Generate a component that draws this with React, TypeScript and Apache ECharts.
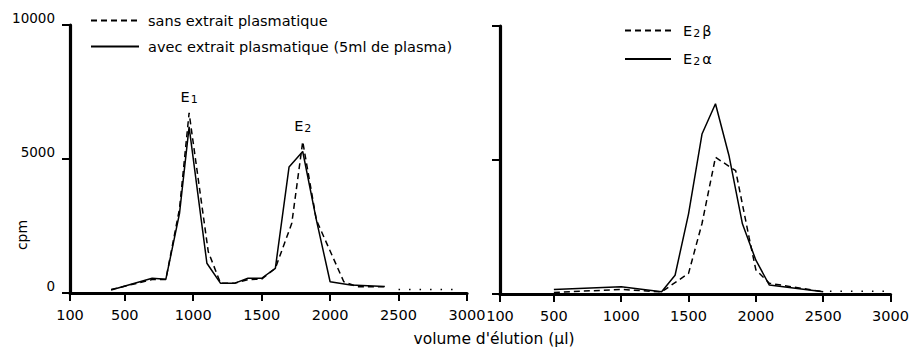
import React, { useEffect, useRef } from "react";
import * as echarts from "echarts";

// Left panel: elution profiles (volume µl -> cpm)
const xLeftSolid = [400, 700, 800, 900, 970, 1100, 1200, 1300, 1400, 1500, 1600, 1700, 1800, 1900, 2000, 2150, 2400];
const yLeftSolid = [110, 550, 510, 2970, 6200, 1110, 360, 360, 550, 550, 920, 4700, 5280, 2720, 420, 300, 240];
const xLeftDashed = [400, 700, 800, 900, 970, 1110, 1200, 1300, 1400, 1500, 1600, 1720, 1800, 1900, 2100, 2200, 2400];
const yLeftDashed = [130, 500, 500, 3150, 6720, 1540, 360, 360, 500, 520, 920, 2600, 5650, 2720, 420, 235, 235];
const xLeftDotted = [2500, 2950];
const yLeftDotted = [130, 130];

// Right panel: E2 alpha / E2 beta
const xRightSolid = [500, 1000, 1300, 1400, 1500, 1600, 1700, 1800, 1900, 2000, 2100, 2500];
const yRightSolid = [170, 270, 85, 700, 2990, 5970, 7100, 5170, 2620, 1260, 335, 85];
const xRightDashed = [500, 1000, 1300, 1500, 1600, 1700, 1850, 1950, 2000, 2100, 2500];
const yRightDashed = [60, 170, 80, 770, 2630, 5100, 4600, 2100, 900, 400, 85];
const xRightDotted = [2550, 3000];
const yRightDotted = [100, 100];

const xTicks = [100, 500, 1000, 1500, 2000, 2500, 3000];
const leftNames = ["sans extrait plasmatique", "avec extrait plasmatique (5ml de plasma)"];
const rightNames = ["E2β", "E2α"];
const peakLabels = ["1", "2"];
const peakIdx = [4, 12];

const FONT = "DejaVu Sans";

const zip = (xs: number[], ys: number[]) => xs.map((x, i) => [x, ys[i]]);

export default function App() {
  const ref = useRef<HTMLDivElement>(null);
  useEffect(() => {
    if (!ref.current) return;
    const chart = echarts.init(ref.current, undefined, { renderer: "svg" });
    const axisLine = { lineStyle: { color: "#000", width: 3.2 } };
    const mkX = (gridIndex: number) => ({
      type: "value",
      gridIndex,
      min: 100,
      max: 3000,
      axisLine: { show: true, ...axisLine, onZero: false },
      axisTick: { show: true, length: 8, lineStyle: { color: "#000", width: 2 }, customValues: xTicks },
      axisLabel: {
        customValues: xTicks,
        formatter: (v: number) => String(v),
        color: "#000",
        fontFamily: FONT,
        fontSize: 14.5,
        margin: 14,
      },
      splitLine: { show: false },
    });
    const mkY = (gridIndex: number, showLabel: boolean) => ({
      type: "value",
      gridIndex,
      min: 0,
      max: 10000,
      interval: 5000,
      axisLine: { show: true, ...axisLine, onZero: false },
      axisTick: { show: true, length: 8, lineStyle: { color: "#000", width: 2 } },
      axisLabel: {
        show: showLabel,
        formatter: (v: number) => String(v),
        color: "#000",
        fontFamily: FONT,
        fontSize: 13.5,
        margin: 15,
        verticalAlign: "bottom",
        lineHeight: 14,
      },
      splitLine: { show: false },
    });
    const solid = { color: "#000", width: 1.5, type: "solid" };
    const dashed = { color: "#000", width: 1.5, type: [6, 4] };
    const dotted = { color: "#000", width: 1.5, type: [1.5, 9] };
    const base = { type: "line", symbol: "none", silent: true, color: "#000", itemStyle: { color: "#000" } };
    const richSub = {
      e: { fontSize: 14.5, fontFamily: FONT, color: "#000" },
      s: { fontSize: 11, fontFamily: FONT, color: "#000", padding: [5, 0, 0, 1] },
      g: { fontSize: 14.5, fontFamily: FONT, color: "#000", padding: [0, 0, 0, 2] },
    };

    chart.setOption({
      animation: false,
      backgroundColor: "#fff",
      grid: [
        { left: 70, top: 25, width: 397, height: 268 },
        { left: 500, top: 26, width: 397, height: 268 },
      ],
      xAxis: [mkX(0), mkX(1)],
      yAxis: [mkY(0, true), mkY(1, false)],
      legend: [
        {
          data: leftNames,
          orient: "vertical",
          left: 90,
          top: 13,
          padding: 0,
          itemWidth: 48,
          itemHeight: 14,
          itemGap: 11,
          selectedMode: false,
          itemStyle: { opacity: 0 },
          textStyle: { color: "#000", fontFamily: FONT, fontSize: 14.5, lineHeight: 14, padding: [0, 0, 0, 4] },
        },
        {
          data: rightNames,
          orient: "vertical",
          left: 624,
          top: 23,
          padding: 0,
          itemWidth: 46,
          itemHeight: 14,
          itemGap: 13,
          selectedMode: false,
          itemStyle: { opacity: 0 },
          formatter: (n: string) => `{e|E}{s|2}{g|${n.slice(2)}}`,
          textStyle: { color: "#000", fontFamily: FONT, fontSize: 14.5, lineHeight: 14, padding: [0, 0, 0, 7], rich: richSub },
        },
      ],
      series: [
        {
          ...base,
          name: leftNames[0],
          xAxisIndex: 0,
          yAxisIndex: 0,
          data: zip(xLeftDashed, yLeftDashed),
          lineStyle: dashed,
          markPoint: {
            symbol: "circle",
            symbolSize: 0,
            silent: true,
            label: {
              show: true,
              position: "top",
              distance: 8,
              formatter: (p: any) => `{e|E}{s|${p.name}}`,
              rich: richSub,
            },
            data: peakIdx.map((k, i) => ({
              name: peakLabels[i],
              coord: [xLeftDashed[k], yLeftDashed[k]],
            })),
          },
        },
        {
          ...base,
          name: leftNames[1],
          xAxisIndex: 0,
          yAxisIndex: 0,
          data: zip(xLeftSolid, yLeftSolid),
          lineStyle: solid,
        },
        {
          ...base,
          name: "dotted-left",
          xAxisIndex: 0,
          yAxisIndex: 0,
          data: zip(xLeftDotted, yLeftDotted),
          lineStyle: dotted,
        },
        {
          ...base,
          name: rightNames[0],
          xAxisIndex: 1,
          yAxisIndex: 1,
          data: zip(xRightDashed, yRightDashed),
          lineStyle: dashed,
        },
        {
          ...base,
          name: rightNames[1],
          xAxisIndex: 1,
          yAxisIndex: 1,
          data: zip(xRightSolid, yRightSolid),
          lineStyle: solid,
        },
        {
          ...base,
          name: "dotted-right",
          xAxisIndex: 1,
          yAxisIndex: 1,
          data: zip(xRightDotted, yRightDotted),
          lineStyle: dotted,
        },
      ],
      graphic: [
        {
          type: "text",
          x: 22,
          y: 235,
          rotation: Math.PI / 2,
          style: {
            text: "cpm",
            fill: "#000",
            font: `14px "${FONT}"`,
            align: "center",
            verticalAlign: "middle",
          },
        },
        {
          type: "text",
          x: 494,
          y: 339,
          style: {
            text: "volume d'élution (μl)",
            fill: "#000",
            font: `15.5px "${FONT}"`,
            align: "center",
            verticalAlign: "middle",
          },
        },
      ],
    });
    return () => chart.dispose();
  }, []);
  return (
    <div
      ref={ref}
      style={{ position: "fixed", left: 0, top: 0, width: 912, height: 351, background: "#fff" }}
    />
  );
}
